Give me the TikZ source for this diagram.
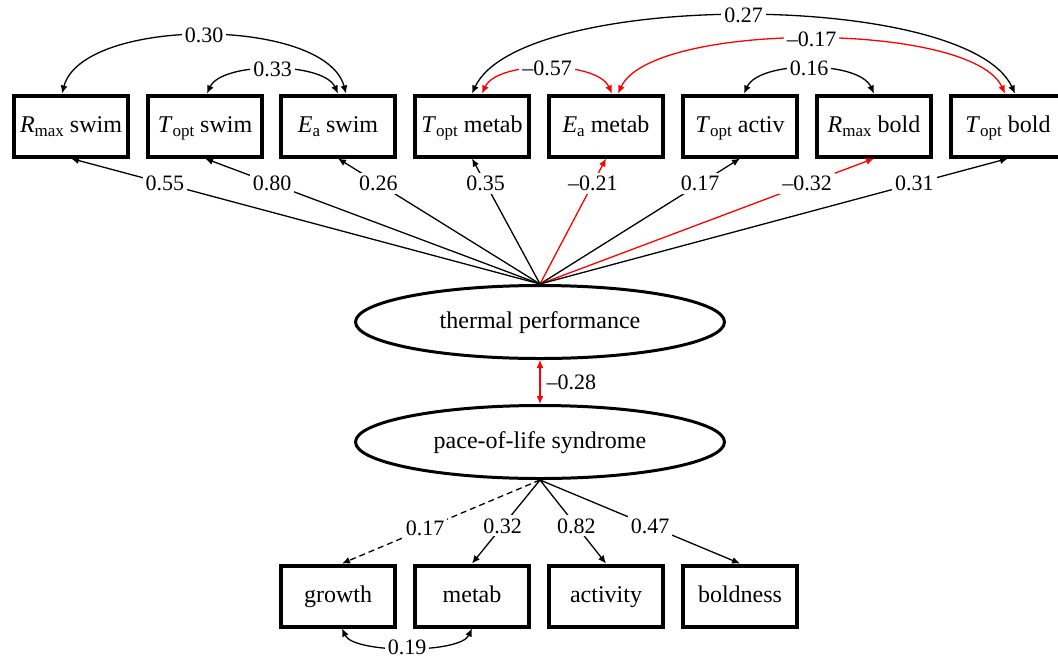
\documentclass[tikz,border=0pt]{standalone}
\usepackage{fontspec}
\setmainfont{Liberation Serif}
\usetikzlibrary{arrows.meta,shapes.geometric}
\definecolor{negred}{RGB}{255,0,0}
\newcommand{\lowsub}[1]{\raisebox{-0.45ex}{\fontsize{8.5}{9}\selectfont #1}}

\begin{document}
\begin{tikzpicture}[x=0.5pt,y=-0.5pt,
  obs/.style={draw,line width=2pt,minimum width=57pt,minimum height=30.5pt,inner sep=0pt,text height=8.5pt,text depth=2.5pt,font=\fontsize{12}{14}\selectfont},
  lat/.style={draw,ellipse,line width=1.5pt,minimum width=184.5pt,minimum height=36.5pt,inner sep=0pt,text height=8.5pt,text depth=2.5pt,font=\fontsize{12}{14}\selectfont},
  load/.style={-{Latex[length=4pt,width=3.5pt]},line width=0.65pt},
  cov/.style={{Latex[length=4pt,width=3.5pt]}-{Latex[length=4pt,width=3.5pt]},line width=0.65pt},
  coef/.style={fill=white,inner sep=1.5pt,font=\fontsize{11}{12}\selectfont}]
  \clip (0,0) rectangle (1058,659);
  % Thermal performance traits
  \node[obs] (rmaxswim) at (71,126) {\textit{R}\lowsub{max} swim};
  \node[obs] (toptswim) at (205,126) {\textit{T}\lowsub{opt} swim};
  \node[obs] (easwim) at (338,126) {\textit{E}\lowsub{a} swim};
  \node[obs] (toptmetab) at (472,126) {\textit{T}\lowsub{opt} metab};
  \node[obs] (eametab) at (606,126) {\textit{E}\lowsub{a} metab};
  \node[obs] (toptactiv) at (740,126) {\textit{T}\lowsub{opt} activ};
  \node[obs] (rmaxbold) at (874,126) {\textit{R}\lowsub{max} bold};
  \node[obs] (toptbold) at (1008,126) {\textit{T}\lowsub{opt} bold};
  % Latent factors
  \node[lat] (thermal) at (540,322) {thermal performance};
  \node[lat] (pace) at (540,442) {pace-of-life syndrome};
  % Pace-of-life traits
  \node[obs] (growth) at (338,596) {growth};
  \node[obs] (metab) at (472,596) {metab};
  \node[obs] (activity) at (606,596) {activity};
  \node[obs] (boldness) at (740,596) {boldness};
  % Loadings of thermal performance
  \draw[load] (thermal.north) -- node[coef,pos=0.8] {0.55} (rmaxswim.south);
  \draw[load] (thermal.north) -- node[coef,pos=0.8] {0.80} (toptswim.south);
  \draw[load] (thermal.north) -- node[coef,pos=0.8] {0.26} (easwim.south);
  \draw[load] (thermal.north) -- node[coef,pos=0.8] {0.35} (toptmetab.south);
  \draw[load,negred] (thermal.north) -- node[coef,pos=0.8,text=black] {--0.21} (eametab.south);
  \draw[load] (thermal.north) -- node[coef,pos=0.8] {0.17} (toptactiv.south);
  \draw[load,negred] (thermal.north) -- node[coef,pos=0.8,text=black] {--0.32} (rmaxbold.south);
  \draw[load] (thermal.north) -- node[coef,pos=0.8] {0.31} (toptbold.south);
  % Residual covariances
  \draw[cov] ([xshift=-4.5pt]rmaxswim.north) to[out=75,in=105,looseness=0.72] node[coef] {0.30} ([xshift=4pt]easwim.north);
  \draw[cov] ([xshift=1pt]toptswim.north) to[out=65,in=115,looseness=0.69] node[coef] {0.33} (easwim.north);
  \draw[cov] (toptmetab.north) to[out=65,in=115,looseness=0.54] node[coef] {0.27} ([xshift=3.5pt]toptbold.north);
  \draw[cov,negred] ([xshift=6pt]eametab.north) to[out=65,in=115,looseness=0.53] node[coef,text=black] {--0.17} ([xshift=-1.5pt]toptbold.north);
  \draw[cov,negred] ([xshift=5pt]toptmetab.north) to[out=65,in=115,looseness=0.72] node[coef,text=black] {--0.57} ([xshift=3pt]eametab.north);
  \draw[cov] ([xshift=2pt]toptactiv.north) to[out=65,in=115,looseness=0.72] node[coef] {0.16} (rmaxbold.north);
  % Latent correlation
  \draw[cov,negred] (thermal.south) -- node[coef,right,fill=none,text=black,xshift=1.5pt] {--0.28} (pace.north);
  % Loadings of pace-of-life syndrome
  \draw[load,dashed,dash pattern=on 3pt off 2pt] (pace.south) -- node[coef,pos=0.58] {0.17} ([xshift=2pt]growth.north);
  \draw[load] (pace.south) -- node[coef,pos=0.55] {0.32} (metab.north);
  \draw[load] (pace.south) -- node[coef,pos=0.55] {0.82} (activity.north);
  \draw[load] (pace.south) -- node[coef,pos=0.55] {0.47} (boldness.north);
  \draw[cov] ([xshift=2pt]growth.south) to[out=-65,in=-115,looseness=0.55] node[coef] {0.19} (metab.south);
\end{tikzpicture}
\end{document}
